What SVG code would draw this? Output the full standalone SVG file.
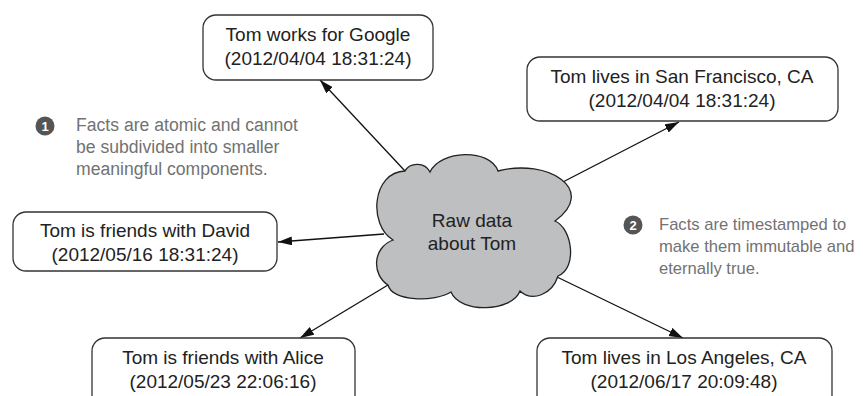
<svg xmlns="http://www.w3.org/2000/svg" width="863" height="396" viewBox="0 0 863 396">
  <style>
    .box { fill: #ffffff; stroke: #333333; stroke-width: 1.3; }
    .label { font-family: "Liberation Sans", Arial, sans-serif; font-size: 19px; fill: #222222; text-anchor: middle; }
    .note { font-family: "Liberation Sans", Arial, sans-serif; font-size: 17.6px; fill: #727272; }
    .note.narrow { font-size: 16.6px; }
    .badge { fill: #555555; }
    .badge-num { font-family: "Liberation Sans", Arial, sans-serif; font-size: 13px; font-weight: bold; fill: #ffffff; text-anchor: middle; }
    .edge { fill: none; stroke: #111111; stroke-width: 1.3; marker-end: url(#arrow); }
  </style>
  <defs>
    <marker id="arrow" markerUnits="userSpaceOnUse" markerWidth="15" markerHeight="10" refX="14" refY="4.5" orient="auto">
      <path d="M0,0 L14,4.5 L0,9 z" fill="#111111"/>
    </marker>
  </defs>

  <rect width="863" height="396" fill="#ffffff"/>

  <!-- connectors from the cloud to each fact -->
  <g id="connectors">
    <path class="edge" d="M405,171 L320,80"/>
    <path class="edge" d="M559,184 L679,122"/>
    <path class="edge" d="M384,234 L278,242"/>
    <path class="edge" d="M388,285 L300,338"/>
    <path class="edge" d="M557,277 L683,338"/>
  </g>

  <!-- central cloud -->
  <g id="raw-data">
    <path d="M405,171 C410,162 425,162 430,172 C440,150 490,148 498,171 C548,158 598,190 555,221 C572,228 578,268 558,276 C552,295 532,302 520,291 C512,312 460,314 451,292 C435,302 392,302 388,285 C372,275 372,248 393,240 C368,225 372,172 405,171 Z" fill="#bdbfc0" stroke="#222222" stroke-width="1.3"/>
    <text class="label" x="472" y="227">Raw data</text>
    <text class="label" x="472" y="250">about Tom</text>
  </g>

  <g id="fact-google">
    <rect class="box" x="203" y="15" width="230" height="65" rx="13"/>
    <text class="label" x="318" y="41">Tom works for Google</text>
    <text class="label" x="318" y="65">(2012/04/04 18:31:24)</text>
  </g>

  <g id="fact-sf">
    <rect class="box" x="527" y="57" width="311" height="64" rx="13"/>
    <text class="label" x="682" y="83">Tom lives in San Francisco, CA</text>
    <text class="label" x="682" y="107">(2012/04/04 18:31:24)</text>
  </g>

  <g id="fact-david">
    <rect class="box" x="13" y="212" width="264" height="59" rx="13"/>
    <text class="label" x="145" y="237">Tom is friends with David</text>
    <text class="label" x="145" y="261">(2012/05/16 18:31:24)</text>
  </g>

  <g id="fact-alice">
    <rect class="box" x="92" y="338" width="263" height="70" rx="13"/>
    <text class="label" x="223" y="364">Tom is friends with Alice</text>
    <text class="label" x="223" y="388">(2012/05/23 22:06:16)</text>
  </g>

  <g id="fact-la">
    <rect class="box" x="537" y="338" width="295" height="70" rx="13"/>
    <text class="label" x="684" y="364">Tom lives in Los Angeles, CA</text>
    <text class="label" x="684" y="388">(2012/06/17 20:09:48)</text>
  </g>

  <!-- annotations -->
  <g id="note-1">
    <circle class="badge" cx="45" cy="126" r="9.5"/>
    <text class="badge-num" x="45" y="130.5">1</text>
    <text class="note" x="76" y="131">Facts are atomic and cannot</text>
    <text class="note" x="76" y="153">be subdivided into smaller</text>
    <text class="note" x="76" y="175">meaningful components.</text>
  </g>

  <g id="note-2">
    <circle class="badge" cx="633" cy="225" r="9.5"/>
    <text class="badge-num" x="633" y="229.5">2</text>
    <text class="note narrow" x="659" y="230">Facts are timestamped to</text>
    <text class="note narrow" x="659" y="252">make them immutable and</text>
    <text class="note narrow" x="659" y="274">eternally true.</text>
  </g>
</svg>
